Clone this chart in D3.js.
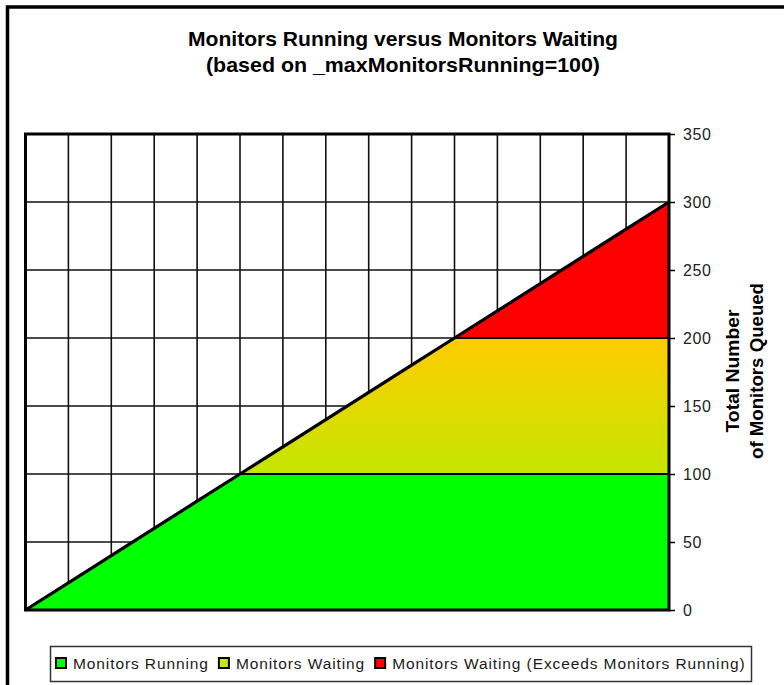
<!DOCTYPE html>
<html>
<head>
<meta charset="utf-8">
<script src="https://cdn.jsdelivr.net/npm/d3@7"></script>
<style>
  html, body { margin: 0; padding: 0; background: #fff; }
  svg { display: block; }
</style>
</head>
<body>
<svg id="chart" width="784" height="685"></svg>
<script>
// Step along the horizontal axis (one step per gridline)
const steps = [0, 1, 2, 3, 4, 5, 6, 7, 8, 9, 10, 11, 12, 13, 14, 15];
// Stacked series values at each step
const running  = [0, 20, 40, 60, 80, 100, 100, 100, 100, 100, 100, 100, 100, 100, 100, 100];
const waiting  = [0, 0, 0, 0, 0, 0, 20, 40, 60, 80, 100, 100, 100, 100, 100, 100];
const exceeds  = [0, 0, 0, 0, 0, 0, 0, 0, 0, 0, 0, 20, 40, 60, 80, 100];
const seriesNames = ["Monitors Running", "Monitors Waiting", "Monitors Waiting (Exceeds Monitors Running)"];
const seriesColors = ["#00ff00", "#c4e600", "#ff0000"];
const yTicks = [0, 50, 100, 150, 200, 250, 300, 350];
const titleLines = ["Monitors Running versus Monitors Waiting", "(based on _maxMonitorsRunning=100)"];
const axisTitleLines = ["Total Number", "of Monitors Queued"];

const svg = d3.select("#chart");

// Outer frame (only top and left edges fall inside the view)
svg.append("rect")
  .attr("x", 7.5).attr("y", 7)
  .attr("width", 800).attr("height", 700)
  .attr("fill", "none").attr("stroke", "#000").attr("stroke-width", 3.5);

// Title
const titleWidths = [430, 394];
svg.selectAll("text.title").data(titleLines).join("text")
  .attr("class", "title")
  .attr("x", 403)
  .attr("y", (d, i) => 46 + i * 26)
  .attr("text-anchor", "middle")
  .attr("font-family", "Liberation Sans, Arial, sans-serif")
  .attr("font-weight", "bold")
  .attr("font-size", 20.5)
  .attr("textLength", (d, i) => titleWidths[i])
  .attr("lengthAdjust", "spacingAndGlyphs")
  .attr("fill", "#000")
  .text(d => d);

const x = d3.scaleLinear().domain([0, 15]).range([25.5, 669]);
const y = d3.scaleLinear().domain([0, 350]).range([610, 134]);

const plot = svg.append("g");

// Gridlines
plot.append("g").selectAll("line").data(steps.slice(1, -1)).join("line")
  .attr("x1", d => x(d)).attr("x2", d => x(d))
  .attr("y1", y(350)).attr("y2", y(0))
  .attr("stroke", "#111").attr("stroke-width", 1.6);
plot.append("g").selectAll("line").data(yTicks.slice(1, -1)).join("line")
  .attr("x1", x(0)).attr("x2", x(15))
  .attr("y1", d => y(d)).attr("y2", d => y(d))
  .attr("stroke", "#111").attr("stroke-width", 1.6);

// Gradient for the waiting band
const defs = svg.append("defs");
const grad = defs.append("linearGradient")
  .attr("id", "waitGrad")
  .attr("gradientUnits", "userSpaceOnUse")
  .attr("x1", 0).attr("x2", 0)
  .attr("y1", y(100)).attr("y2", y(200));
grad.append("stop").attr("offset", "0%").attr("stop-color", "#c4e600");
grad.append("stop").attr("offset", "100%").attr("stop-color", "#ffcc00");

// Stacked areas
const table = steps.map((s, i) => ({ step: s, running: running[i], waiting: waiting[i], exceeds: exceeds[i] }));
const stack = d3.stack().keys(["running", "waiting", "exceeds"]);
const layers = stack(table);
const fills = ["#00ff00", "url(#waitGrad)", "#ff0000"];

const area = d3.area()
  .x(d => x(d.data.step))
  .y0(d => y(d[0]))
  .y1(d => y(d[1]));

plot.append("g").selectAll("path").data(layers).join("path")
  .attr("d", d => {
    // keep only the span where the layer has thickness, plus its edges
    const pts = d.filter((p, i) => {
      const thick = v => v && v[1] - v[0] > 0;
      return thick(p) || thick(d[i - 1]) || thick(d[i + 1]);
    });
    return area(pts);
  })
  .attr("fill", (d, i) => fills[i])
  .attr("stroke", "#000")
  .attr("stroke-width", 2)
  .attr("stroke-linejoin", "round");

// Outline along the stacked total
const totalLine = d3.line()
  .x(d => x(d.data.step))
  .y(d => y(d[1]));
plot.append("path")
  .datum(layers[2])
  .attr("d", totalLine)
  .attr("fill", "none")
  .attr("stroke", "#000")
  .attr("stroke-width", 3.2);

// Plot border
plot.append("rect")
  .attr("x", x(0)).attr("y", y(350))
  .attr("width", x(15) - x(0)).attr("height", y(0) - y(350))
  .attr("fill", "none").attr("stroke", "#000").attr("stroke-width", 3);

// Right value axis
const axis = svg.append("g")
  .attr("transform", `translate(${x(15)},0)`)
  .call(d3.axisRight(y).tickValues(yTicks).tickSize(6).tickPadding(8));
axis.select(".domain").remove();
axis.selectAll(".tick line").attr("stroke", "#000").attr("stroke-width", 1.5);
axis.selectAll(".tick text")
  .attr("font-family", "Liberation Sans, Arial, sans-serif")
  .attr("font-size", 16)
  .attr("letter-spacing", 0.6)
  .attr("fill", "#222")
  .attr("dy", "0.36em");

// Axis title (rotated, two lines)
const axisTitleX = [739, 763];
const axisTitleWidths = [123, 176];
svg.selectAll("text.axtitle").data(axisTitleLines).join("text")
  .attr("class", "axtitle")
  .attr("transform", (d, i) => `translate(${axisTitleX[i]},371) rotate(-90)`)
  .attr("text-anchor", "middle")
  .attr("font-family", "Liberation Sans, Arial, sans-serif")
  .attr("font-weight", "bold")
  .attr("font-size", 18.5)
  .attr("textLength", (d, i) => axisTitleWidths[i])
  .attr("lengthAdjust", "spacingAndGlyphs")
  .attr("fill", "#000")
  .text(d => d);

// Legend
const legend = svg.append("g");
legend.append("rect")
  .attr("x", 50.5).attr("y", 646.5)
  .attr("width", 701).attr("height", 35)
  .attr("fill", "#fff").attr("stroke", "#333").attr("stroke-width", 1.5);

let cursor = 56;
seriesNames.forEach((name, i) => {
  legend.append("rect")
    .attr("x", cursor).attr("y", 658)
    .attr("width", 10).attr("height", 10)
    .attr("fill", seriesColors[i])
    .attr("stroke", "#000").attr("stroke-width", 2);
  const t = legend.append("text")
    .attr("x", cursor + 17).attr("y", 669)
    .attr("font-family", "Liberation Sans, Arial, sans-serif")
    .attr("font-size", 15.5)
    .attr("letter-spacing", 0.9)
    .attr("fill", "#1a1a1a")
    .text(name);
  cursor = cursor + 17 + t.node().getComputedTextLength() + 10;
});
</script>
</body>
</html>
